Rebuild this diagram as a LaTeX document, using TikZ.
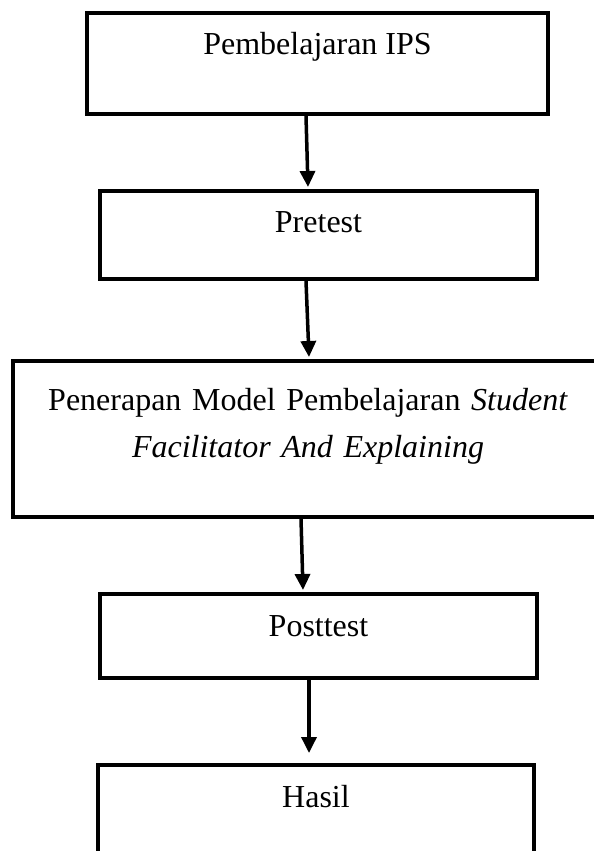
\documentclass[tikz,border=0pt]{standalone}
\usepackage{fontspec}
\setmainfont{Liberation Serif}
\usetikzlibrary{arrows.meta}

\begin{document}
\begin{tikzpicture}[x=1pt, y=-1pt,
    >={Triangle[length=16pt,width=15pt]},
    box/.style={draw, line width=4pt, inner sep=0pt, anchor=north,
      font=\fontsize{32}{47}\selectfont},
    flow/.style={->, line width=3.5pt}]
  \useasboundingbox (0,0) rectangle (594,851);
  \node[box, minimum width=461pt, text height=42pt, text depth=59pt]
    (ips) at (317.5,11) {Pembelajaran IPS};
  \node[box, minimum width=437pt, text height=41pt, text depth=47pt]
    (pre) at (318.5,189) {Pretest};
  \node[box, text width=590pt, align=center, text height=49pt, text depth=106.5pt]
    (model) at (308,359) {Penerapan Model Pembelajaran \textit{Student}\\
    \textit{Facilitator And Explaining}};
  \node[box, minimum width=437pt, text height=42pt, text depth=42pt]
    (post) at (318.5,592) {Posttest};
  \node[box, minimum width=436pt, text height=42pt, text depth=80pt]
    (hasil) at (316,763) {Hasil};
  \draw[flow] ([xshift=-11.5pt]ips.south) -- ([xshift=-10.5pt,yshift=2pt]pre.north);
  \draw[flow] ([xshift=-12.5pt]pre.south) -- ([xshift=1pt,yshift=2pt]model.north);
  \draw[flow] ([xshift=-7pt]model.south) -- ([xshift=-15.5pt,yshift=2pt]post.north);
  \draw[flow] ([xshift=-9.5pt]post.south) -- ([xshift=-7pt,yshift=10pt]hasil.north);
\end{tikzpicture}
\end{document}
